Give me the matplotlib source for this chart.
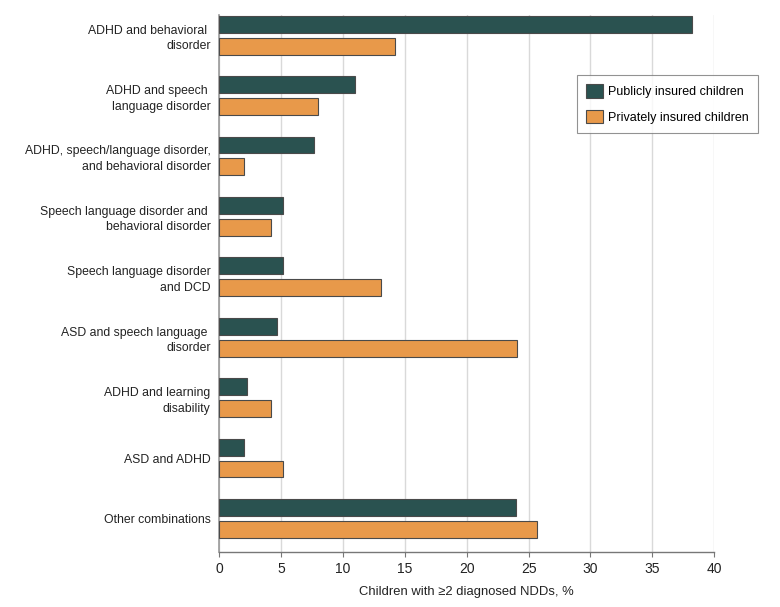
import matplotlib
matplotlib.use('Agg')
import matplotlib.pyplot as plt
import numpy as np

# 字体
plt.rcParams['font.family'] = ['Liberation Sans', 'DejaVu Sans']

# 数据
categories = [
    'ADHD and behavioral \ndisorder',
    'ADHD and speech \nlanguage disorder',
    'ADHD, speech/language disorder,\nand behavioral disorder',
    'Speech language disorder and \nbehavioral disorder',
    'Speech language disorder\nand DCD',
    'ASD and speech language \ndisorder',
    'ADHD and learning\ndisability',
    'ASD and ADHD',
    'Other combinations',
]
public_pct = [38.2, 11.0, 7.7, 5.2, 5.2, 4.7, 2.3, 2.0, 24.0]
private_pct = [14.2, 8.0, 2.0, 4.2, 13.1, 24.1, 4.2, 5.2, 25.7]
series_labels = ['Publicly insured children', 'Privately insured children']
x_ticks = [0, 5, 10, 15, 20, 25, 30, 35, 40]

teal = '#2a5250'
orange = '#e8994a'
edge = '#4a4a4a'

fig = plt.figure(figsize=(7.8, 6.07), dpi=100)
ax = fig.add_axes([219 / 780, 1 - 551.7 / 607, 495.3 / 780, 536.7 / 607])

y = np.arange(len(categories))
h = 0.281
off = 0.182
ax.barh(y - off, public_pct, height=h, color=teal, edgecolor=edge, lw=0.8,
        label=series_labels[0], zorder=3)
ax.barh(y + off, private_pct, height=h, color=orange, edgecolor=edge, lw=0.8,
        label=series_labels[1], zorder=3)

ax.set_xlim(0, 40)
ax.set_ylim(8.551, -0.334)
ax.set_xticks(x_ticks)
ax.set_yticks(y)
ax.set_yticklabels(categories, fontsize=8.8, linespacing=1.4)
ax.tick_params(axis='y', length=0, pad=6, colors='#222222')
ax.tick_params(axis='x', length=3.5, width=0.8, color='#777777', pad=4,
               labelsize=10, labelcolor='#222222')

# 网格线
ax.grid(axis='x', color='#d9d9d9', lw=1.0, zorder=0)
ax.set_axisbelow(True)

for s in ['top', 'right']:
    ax.spines[s].set_visible(False)
ax.spines['left'].set_color('#999999')
ax.spines['bottom'].set_color('#777777')
ax.spines['left'].set_linewidth(1.2)
ax.spines['bottom'].set_linewidth(1.0)

ax.set_xlabel('Children with ≥2 diagnosed NDDs, %', fontsize=9.4, color='#222222',
              labelpad=7)

leg = ax.legend(loc='upper left', bbox_to_anchor=((577.3 - 219) / 495.3, (551.7 - 75.3) / 536.7),
                frameon=True, fancybox=False, fontsize=9, handlelength=1.3,
                handleheight=1.3, handletextpad=0.45, labelspacing=0.9,
                borderpad=0.72, borderaxespad=0)
leg.get_frame().set_edgecolor('#777777')
leg.get_frame().set_linewidth(0.8)

plt.savefig('out.png', dpi=100)
